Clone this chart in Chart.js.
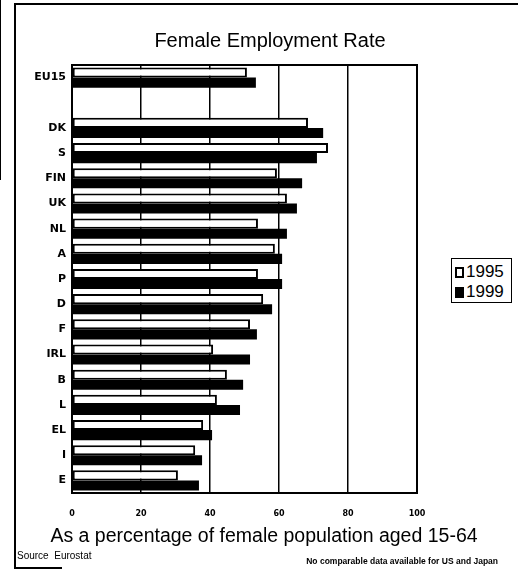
<!DOCTYPE html>
<html>
<head>
<meta charset="utf-8">
<script src="https://cdn.jsdelivr.net/npm/chart.js@4/dist/chart.umd.min.js"></script>
<style>
  html, body { margin: 0; padding: 0; background: #fff; }
  #wrap { position: relative; width: 518px; height: 571px; overflow: hidden; background: #fff; }
  #c { position: absolute; left: 0; top: 0; }
  .t { position: absolute; white-space: nowrap; color: #000; font-family: "Liberation Sans", Arial, sans-serif; }
  .line { position: absolute; background: #000; }
  #legend { position: absolute; left: 451px; top: 258px; width: 61px; height: 45px; border: 1.5px solid #000; box-sizing: border-box; background: #fff; }
  .li { position: absolute; left: 3px; font: 17px/17px "Liberation Sans", Arial, sans-serif; white-space: nowrap; }
  .sw { display: inline-block; width: 9px; height: 11px; vertical-align: -1px; margin-right: 2px; box-sizing: border-box; }
</style>
</head>
<body>
<div id="wrap">
  <canvas id="c" width="518" height="571"></canvas>
  <div class="line" style="left:14px;top:4px;width:2px;height:565px"></div>
  <div class="line" style="left:14px;top:3px;width:504px;height:2px"></div>
  <div class="line" style="left:0px;top:0px;width:1px;height:180px"></div>
  <div class="line" style="left:14px;top:567px;width:48px;height:1.5px"></div>
  <div class="t" id="title" style="left:0;top:30px;width:540px;text-align:center;font-size:20px;line-height:20px">Female Employment Rate</div>
  <div class="t" id="xtitle" style="left:0;top:526px;width:528px;text-align:center;font-size:19.5px;line-height:19.5px">As a percentage of female population aged 15-64</div>
  <div class="t" style="left:17px;top:551px;font-size:10px;line-height:10px">Source&nbsp; Eurostat</div>
  <div class="t" style="left:280px;top:557px;width:218px;text-align:right;font-size:8.5px;line-height:8.5px;font-weight:bold">No comparable data available for US and Japan</div>
  <div id="legend">
    <div class="li" style="top:4px"><span class="sw" style="border:2.5px solid #000;background:#fff"></span>1995</div>
    <div class="li" style="top:24px"><span class="sw" style="background:#000"></span>1999</div>
  </div>
</div>
<script>
const categories = ['EU15', '', 'DK', 'S', 'FIN', 'UK', 'NL', 'A', 'P', 'D', 'F', 'IRL', 'B', 'L', 'EL', 'I', 'E'];
const rate1995 = [50.7, null, 68.4, 74.2, 59.4, 62.3, 53.9, 58.8, 53.9, 55.4, 51.6, 40.9, 44.9, 42.0, 38.0, 35.7, 30.7];
const rate1999 = [53.3, null, 72.8, 71.0, 66.7, 65.2, 62.3, 60.9, 60.9, 58.0, 53.6, 51.6, 49.6, 48.7, 40.6, 37.7, 36.8];
const seriesNames = ['1995', '1999'];
const xTickValues = [0, 20, 40, 60, 80, 100];

const frameBox = {
  id: 'frameBox',
  afterDatasetsDraw(chart) {
    const a = chart.chartArea, ctx = chart.ctx;
    ctx.save();
    ctx.strokeStyle = '#000';
    ctx.lineWidth = 2;
    ctx.strokeRect(a.left, a.top, a.right - a.left, a.bottom - a.top);
    ctx.restore();
  }
};

new Chart(document.getElementById('c'), {
  type: 'bar',
  data: {
    labels: categories,
    datasets: [
      { label: seriesNames[0], data: rate1995, backgroundColor: '#fff', borderColor: '#000', borderWidth: 2, borderSkipped: false },
      { label: seriesNames[1], data: rate1999, backgroundColor: '#000', borderColor: '#000', borderWidth: 0 }
    ]
  },
  options: {
    indexAxis: 'y',
    responsive: false,
    animation: false,
    devicePixelRatio: 1,
    categoryPercentage: 0.8,
    barPercentage: 1.0,
    layout: { padding: { left: 0, right: 101, top: 65, bottom: 48 } },
    plugins: { legend: { display: false }, title: { display: false }, tooltip: { enabled: false } },
    scales: {
      x: {
        min: 0, max: 100,
        afterBuildTicks(scale) { scale.ticks = xTickValues.map(v => ({ value: v })); },
        afterFit(scale) { scale.height = 30; },
        grid: { color: '#000', lineWidth: 1.5, drawTicks: false },
        border: { color: '#000', width: 2 },
        ticks: { color: '#000', padding: 16, font: { family: 'DejaVu Sans', size: 8, weight: 'bold' } }
      },
      y: {
        afterFit(scale) { scale.width = 72; },
        grid: { display: false, drawTicks: false },
        border: { color: '#000', width: 2 },
        ticks: { color: '#000', padding: 6, autoSkip: false, font: { family: 'DejaVu Sans', size: 11, weight: 'bold' } }
      }
    }
  },
  plugins: [frameBox]
});
</script>
</body>
</html>
